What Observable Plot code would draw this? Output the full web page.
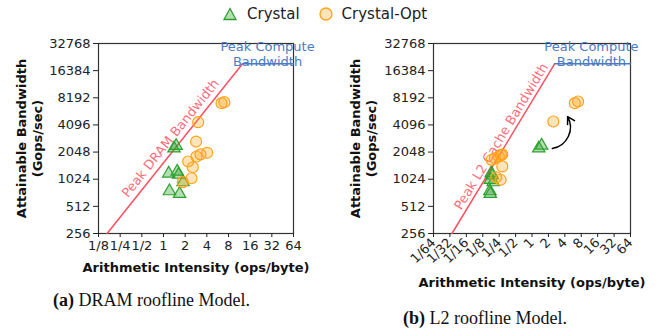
<!DOCTYPE html>
<html><head><meta charset="utf-8">
<script src="https://cdn.jsdelivr.net/npm/d3@7"></script>
<script src="https://cdn.jsdelivr.net/npm/@observablehq/plot@0.6"></script>
<style>
body{margin:0;background:#fff;}
#root{position:relative;width:658px;height:333px;overflow:hidden;font-family:"DejaVu Sans",sans-serif;}
.abs{position:absolute;}
.cap{font-family:"Liberation Serif",serif;font-size:18px;color:#111;white-space:nowrap;}
.leg{font-size:15px;color:#222;white-space:nowrap;display:flex;align-items:center;}
</style></head><body><div id="root"></div>
<script>
// ---- data ----
const seriesNames = ["Crystal", "Crystal-Opt"];
const yTicks = [256, 512, 1024, 2048, 4096, 8192, 16384, 32768];
const dramXTicks = [1/8, 1/4, 1/2, 1, 2, 4, 8, 16, 32, 64];
const l2XTicks = [1/64, 1/32, 1/16, 1/8, 1/4, 1/2, 1, 2, 4, 8, 16, 32, 64];
const peakCompute = 19500;
const dramBW = 1555;
const l2BW = 7500;
// DRAM roofline
const crystalDramAI   = [1.40, 1.50, 1.18, 1.55, 1.62, 1.87, 1.21, 1.67];
const crystalDramPerf = [2250, 2400, 1185, 1245, 1150, 950, 755, 706];
const optDramAI   = [6.4, 7.0, 3.03, 2.84, 4.04, 3.26, 2.87, 2.2, 2.55, 2.45, 1.85];
const optDramPerf = [7140, 7320, 4390, 2680, 2010, 1930, 1830, 1610, 1390, 1050, 950];
// L2 roofline
const crystalL2AI   = [1.33, 1.50, 0.179, 0.187, 0.194, 0.172, 0.169, 0.172];
const crystalL2Perf = [2250, 2420, 1200, 1130, 950, 1010, 755, 706];
const optL2AI   = [6.1, 7.0, 2.46, 0.209, 0.285, 0.285, 0.182, 0.247, 0.221, 0.266, 0.27];
const optL2Perf = [7140, 7450, 4470, 1750, 1930, 1420, 1680, 1830, 1075, 1010, 1900];
// arrow (L2 panel): from Crystal point toward Crystal-Opt
const arrowFrom = {x: 2.36, y: 2240};
const arrowTo = {x: 4.5, y: 5070};

const fmt = d => d >= 1 ? String(Math.round(d)) : "1/" + Math.round(1 / d);
const green = "#2ca02c", orange = "#ffa31a", red = "#ff4f5f", blue = "#4a7bc4";

function roofPlot(o) {
  const crystal = o.cAI.map((x, i) => ({x, y: o.cPerf[i]}));
  const opt = o.oAI.map((x, i) => ({x, y: o.oPerf[i]}));
  const ridge = peakCompute / o.bw;
  const iw = o.width - o.ml - o.mr, ih = o.height - o.mt - o.mb;
  const octX = Math.log2(o.xDomain[1] / o.xDomain[0]);
  const angle = Math.atan((ih / 7) / (iw / octX)) * 180 / Math.PI;
  const rad = angle * Math.PI / 180;
  const nx = -Math.sin(rad), ny = -Math.cos(rad);
  const marks = [
    Plot.frame({stroke: "#333", strokeWidth: 1.2}),
    Plot.axisY({ticks: yTicks, tickFormat: d => String(d), tickSize: 5, tickPadding: 3, label: null}),
    Plot.axisX({ticks: o.xTicks, tickFormat: fmt, tickSize: 4, tickPadding: 3, label: null, tickRotate: o.tickRotate || 0}),
    Plot.line([{x: 256 / o.bw, y: 256}, {x: ridge, y: peakCompute}], {x: "x", y: "y", stroke: red, strokeWidth: 1.5}),
    Plot.line([{x: ridge, y: peakCompute}, {x: o.xDomain[1], y: peakCompute}], {x: "x", y: "y", stroke: blue, strokeWidth: 1.5}),
    Plot.text([o.roofLabel], {x: () => o.labelAt, y: () => o.labelAt * o.bw, text: d => d, rotate: -angle,
      lineAnchor: "middle", textAnchor: "middle", fill: red, fillOpacity: 0.85, fontSize: 13,
      dx: nx * o.labelOff, dy: ny * o.labelOff}),
    Plot.text(["Peak Compute\nBandwidth"], {x: () => o.peakTextX, y: () => peakCompute, text: d => d,
      lineAnchor: "bottom", textAnchor: "middle", fill: blue, fontSize: 13, lineHeight: 1.15, dy: 2}),
    Plot.dot(crystal, {x: "x", y: "y", symbol: "triangle", r: 4.6, stroke: green, fill: green, fillOpacity: 0.35, strokeWidth: 1.2}),
    Plot.dot(opt, {x: "x", y: "y", symbol: "circle", r: 5.5, stroke: orange, fill: orange, fillOpacity: 0.3, strokeWidth: 1.2}),
    Plot.text(["Attainable Bandwidth\n(Gops/sec)"], {frameAnchor: "left", text: d => d, rotate: -90, dx: o.yTitleDx,
      lineAnchor: "middle", textAnchor: "middle", fontWeight: "bold", fontSize: 13, lineHeight: 1.25, fill: "#111"}),
    Plot.text(["Arithmetic Intensity (ops/byte)"], {frameAnchor: "bottom", text: d => d, dy: o.xTitleDy,
      lineAnchor: "middle", textAnchor: "middle", fontWeight: "bold", fontSize: 13, fill: "#111"})
  ];
  if (o.arrow) marks.push(Plot.arrow([o.arrow], {x1: d => d.from.x, y1: d => d.from.y, x2: d => d.to.x, y2: d => d.to.y,
    bend: o.arrow.bend, stroke: "#000", strokeWidth: 1.5, headLength: 8}));
  return Plot.plot({
    width: o.width, height: o.height,
    marginLeft: o.ml, marginRight: o.mr, marginTop: o.mt, marginBottom: o.mb,
    style: {fontFamily: "DejaVu Sans", fontSize: "13px", color: "#222", background: "transparent", overflow: "visible"},
    x: {type: "log", base: 2, domain: o.xDomain},
    y: {type: "log", base: 2, domain: [256, 32768]},
    marks
  });
}

const root = document.getElementById("root");
function place(el, left, top) { el.classList.add("abs"); el.style.left = left + "px"; el.style.top = top + "px"; root.appendChild(el); return el; }

const left = roofPlot({
  width: 330, height: 280, ml: 98, mr: 37, mt: 43, mb: 47,
  xDomain: [1/8, 64], xTicks: dramXTicks, bw: dramBW,
  cAI: crystalDramAI, cPerf: crystalDramPerf, oAI: optDramAI, oPerf: optDramPerf,
  roofLabel: "Peak DRAM Bandwidth", labelAt: 1.6, labelOff: 9.8, peakTextX: 27.9,
  yTitleDx: -69.5, xTitleDy: 34
});
place(left, 0, 0);

const right = roofPlot({
  width: 328, height: 300, ml: 103, mr: 28, mt: 43, mb: 67,
  xDomain: [1/64, 64], xTicks: l2XTicks, bw: l2BW, tickRotate: -45,
  cAI: crystalL2AI, cPerf: crystalL2Perf, oAI: optL2AI, oPerf: optL2Perf,
  roofLabel: "Peak L2 Cache Bandwidth", labelAt: 0.365, labelOff: 8, peakTextX: 12.3,
  yTitleDx: -70.5, xTitleDy: 49,
  arrow: {from: arrowFrom, to: arrowTo, bend: -55}
});
place(right, 330, 0);

// legend
const leg = document.createElement("div");
leg.className = "leg";
leg.innerHTML =
  `<svg width="16" height="16" style="margin-right:9px"><path d="M8,2.5 L14,13.5 L2,13.5 Z" fill="${green}" fill-opacity="0.35" stroke="${green}" stroke-width="1.3"/></svg><span>${seriesNames[0]}</span>` +
  `<svg width="16" height="16" style="margin-left:18px;margin-right:8px"><circle cx="8" cy="8" r="6" fill="${orange}" fill-opacity="0.3" stroke="${orange}" stroke-width="1.3"/></svg><span>${seriesNames[1]}</span>`;
place(leg, 222, 5);

// captions
const capA = document.createElement("div");
capA.className = "cap";
capA.innerHTML = "<b>(a)</b> DRAM roofline Model.";
place(capA, 53, 290);
const capB = document.createElement("div");
capB.className = "cap";
capB.innerHTML = "<b>(b)</b> L2 roofline Model.";
place(capB, 403, 308);
</script></body></html>
